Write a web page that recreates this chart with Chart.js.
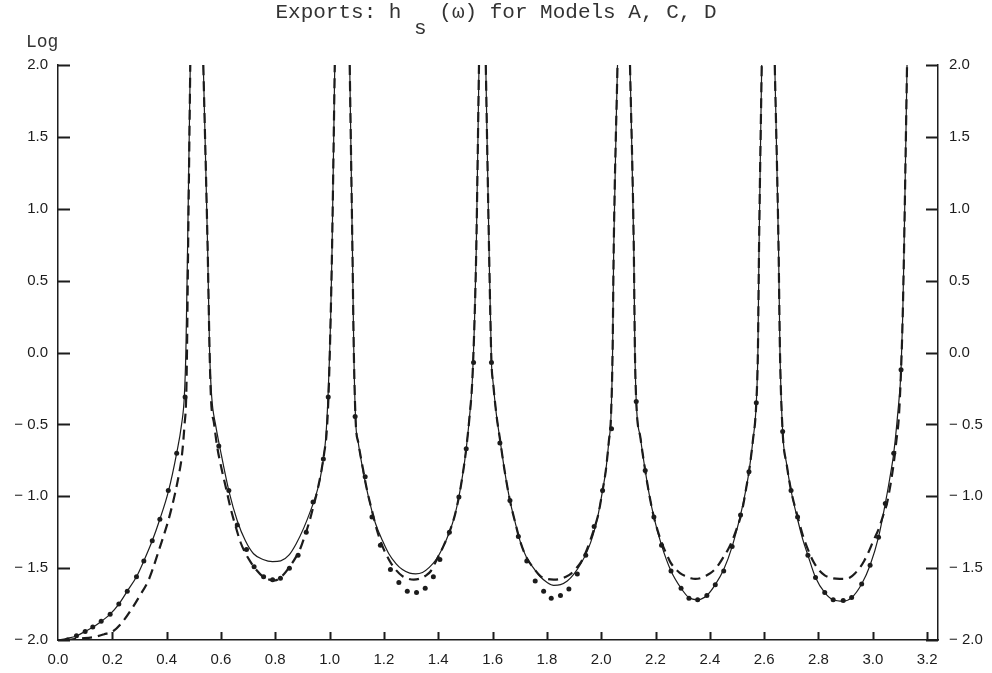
<!DOCTYPE html>
<html>
<head>
<meta charset="utf-8">
<script src="https://cdn.jsdelivr.net/npm/chart.js@4.4.0/dist/chart.umd.min.js"></script>
<style>
  body { margin: 0; background: #fff; }
  #wrap { position: relative; width: 992px; height: 673px; }
  #title { position: absolute; top: 1px; left: 0; width: 992px; text-align: center;
           font: 21px "Liberation Mono", monospace; color: #333; line-height: 24px; white-space: pre; }
  #title .sub { position: relative; top: 16px; }
  #ylog { position: absolute; top: 32px; left: 26px; font: 18px "Liberation Mono", monospace; color: #333; }
</style>
</head>
<body>
<div id="wrap">
  <canvas id="c" width="992" height="673"></canvas>
  <div id="title">Exports: h <span class="sub">s</span> (ω) for Models A, C, D</div>
  <div id="ylog">Log</div>
</div>
<script>
// tick values and labels
const xTicks = [0.0, 0.2, 0.4, 0.6, 0.8, 1.0, 1.2, 1.4, 1.6, 1.8, 2.0, 2.2, 2.4, 2.6, 2.8, 3.0, 3.2];
const xTickLabels = ['0.0', '0.2', '0.4', '0.6', '0.8', '1.0', '1.2', '1.4', '1.6', '1.8', '2.0', '2.2', '2.4', '2.6', '2.8', '3.0', '3.2'];
const yTicks = [-2.0, -1.5, -1.0, -0.5, 0.0, 0.5, 1.0, 1.5, 2.0];
const yTickLabels = ['\u2212 2.0', '\u2212 1.5', '\u2212 1.0', '\u2212 0.5', '0.0', '0.5', '1.0', '1.5', '2.0'];

// Model A (solid). null = break at a pole
const modelA = [
  [0.000,-2.00],[0.030,-1.99],[0.070,-1.97],[0.100,-1.94],[0.130,-1.91],[0.160,-1.87],[0.192,-1.82],[0.224,-1.75],
  [0.255,-1.66],[0.289,-1.56],[0.316,-1.45],[0.347,-1.31],[0.375,-1.16],[0.406,-0.97],[0.437,-0.70],[0.455,-0.50],
  [0.465,-0.31],[0.471,0.02],[0.477,0.72],[0.487,2.00],
  [0.511,null],
  [0.535,2.00],[0.551,0.72],[0.558,0.02],[0.566,-0.31],[0.580,-0.50],[0.598,-0.68],[0.630,-0.97],[0.660,-1.17],
  [0.690,-1.31],[0.720,-1.40],[0.755,-1.44],[0.790,-1.455],[0.820,-1.45],[0.850,-1.41],[0.877,-1.33],[0.905,-1.22],
  [0.930,-1.10],[0.950,-0.99],[0.964,-0.89],[0.977,-0.74],[0.986,-0.59],[0.995,-0.27],[1.004,0.25],[1.009,0.72],[1.019,2.00],
  [1.046,null],
  [1.074,2.00],[1.084,0.72],[1.089,0.02],[1.096,-0.48],[1.105,-0.62],[1.118,-0.77],[1.131,-0.90],[1.150,-1.06],
  [1.169,-1.19],[1.195,-1.31],[1.218,-1.40],[1.245,-1.47],[1.268,-1.51],[1.295,-1.535],[1.317,-1.54],[1.342,-1.53],
  [1.367,-1.495],[1.392,-1.44],[1.416,-1.36],[1.441,-1.25],[1.460,-1.14],[1.476,-1.005],[1.490,-0.85],[1.503,-0.67],
  [1.515,-0.45],[1.525,-0.21],[1.534,0.25],[1.540,0.72],[1.550,2.00],
  [1.563,null],
  [1.575,2.00],[1.587,0.72],[1.596,-0.07],[1.602,-0.21],[1.614,-0.43],[1.627,-0.60],[1.645,-0.83],[1.664,-1.03],
  [1.683,-1.18],[1.701,-1.31],[1.726,-1.43],[1.751,-1.50],[1.776,-1.56],[1.801,-1.60],[1.825,-1.62],[1.850,-1.615],
  [1.875,-1.59],[1.900,-1.54],[1.925,-1.47],[1.949,-1.38],[1.970,-1.27],[1.987,-1.145],[2.005,-0.96],[2.017,-0.82],
  [2.028,-0.62],[2.036,-0.445],[2.042,0.02],[2.046,0.72],[2.060,2.00],
  [2.084,null],
  [2.106,2.00],[2.120,0.72],[2.124,0.02],[2.129,-0.34],[2.145,-0.60],[2.162,-0.82],[2.178,-1.00],[2.194,-1.145],
  [2.222,-1.34],[2.257,-1.52],[2.294,-1.64],[2.323,-1.705],[2.355,-1.72],[2.389,-1.69],[2.420,-1.615],[2.451,-1.51],
  [2.482,-1.35],[2.513,-1.13],[2.530,-0.98],[2.544,-0.83],[2.558,-0.62],[2.571,-0.35],[2.577,0.02],[2.581,0.72],[2.591,2.00],
  [2.615,null],
  [2.639,2.00],[2.653,0.72],[2.658,0.02],[2.668,-0.55],[2.683,-0.78],[2.699,-0.96],[2.723,-1.16],[2.742,-1.30],
  [2.761,-1.41],[2.789,-1.565],[2.823,-1.67],[2.854,-1.72],[2.891,-1.73],[2.922,-1.705],[2.959,-1.61],[2.990,-1.48],
  [3.021,-1.285],[3.046,-1.05],[3.062,-0.88],[3.077,-0.70],[3.092,-0.42],[3.104,-0.12],[3.110,0.25],[3.115,0.72],[3.126,2.00]
];

// Model C (dashed)
const modelC = [
  [0.030,-2.00],[0.080,-1.99],[0.130,-1.98],[0.170,-1.96],[0.202,-1.94],[0.235,-1.88],[0.276,-1.77],[0.305,-1.68],
  [0.332,-1.59],[0.350,-1.50],[0.369,-1.39],[0.388,-1.28],[0.406,-1.17],[0.431,-0.98],[0.445,-0.85],[0.456,-0.72],
  [0.466,-0.50],[0.472,-0.31],[0.475,0.02],[0.479,0.72],[0.487,2.00],
  [0.511,null],
  [0.535,2.00],[0.551,0.72],[0.558,0.02],[0.563,-0.31],[0.575,-0.50],[0.586,-0.655],[0.600,-0.79],[0.617,-0.93],
  [0.635,-1.08],[0.654,-1.21],[0.672,-1.32],[0.691,-1.40],[0.710,-1.46],[0.729,-1.51],[0.755,-1.56],[0.778,-1.58],
  [0.800,-1.585],[0.828,-1.55],[0.853,-1.49],[0.877,-1.42],[0.893,-1.36],[0.908,-1.28],[0.925,-1.18],[0.939,-1.08],
  [0.955,-0.96],[0.970,-0.82],[0.980,-0.70],[0.989,-0.56],[0.996,-0.30],[1.004,0.25],[1.009,0.72],[1.019,2.00],
  [1.046,null],
  [1.074,2.00],[1.084,0.72],[1.089,0.02],[1.096,-0.48],[1.106,-0.63],[1.119,-0.77],[1.137,-0.95],[1.156,-1.10],
  [1.175,-1.24],[1.193,-1.34],[1.218,-1.44],[1.243,-1.51],[1.268,-1.555],[1.292,-1.575],[1.310,-1.58],[1.329,-1.575],
  [1.352,-1.555],[1.373,-1.52],[1.392,-1.45],[1.416,-1.36],[1.441,-1.25],[1.460,-1.14],[1.476,-1.005],[1.490,-0.85],
  [1.503,-0.67],[1.515,-0.45],[1.525,-0.21],[1.534,0.25],[1.540,0.72],[1.550,2.00],
  [1.563,null],
  [1.575,2.00],[1.587,0.72],[1.596,-0.07],[1.602,-0.21],[1.614,-0.43],[1.627,-0.60],[1.645,-0.83],[1.664,-1.03],
  [1.683,-1.18],[1.701,-1.31],[1.726,-1.43],[1.751,-1.50],[1.776,-1.555],[1.800,-1.575],[1.825,-1.58],[1.850,-1.575],
  [1.870,-1.56],[1.888,-1.54],[1.908,-1.50],[1.925,-1.46],[1.943,-1.39],[1.961,-1.30],[1.980,-1.19],[1.990,-1.12],
  [2.005,-0.96],[2.017,-0.82],[2.028,-0.62],[2.036,-0.445],[2.042,0.02],[2.046,0.72],[2.060,2.00],
  [2.084,null],
  [2.106,2.00],[2.120,0.72],[2.124,0.02],[2.129,-0.34],[2.145,-0.60],[2.162,-0.82],[2.178,-1.00],[2.194,-1.145],
  [2.222,-1.32],[2.240,-1.40],[2.255,-1.46],[2.271,-1.50],[2.290,-1.535],[2.309,-1.555],[2.330,-1.57],[2.346,-1.575],
  [2.365,-1.57],[2.383,-1.555],[2.402,-1.535],[2.420,-1.505],[2.436,-1.465],[2.451,-1.42],[2.467,-1.37],[2.482,-1.31],
  [2.498,-1.23],[2.513,-1.145],[2.525,-1.04],[2.535,-0.93],[2.544,-0.83],[2.558,-0.62],[2.571,-0.35],[2.577,0.02],
  [2.581,0.72],[2.591,2.00],
  [2.615,null],
  [2.639,2.00],[2.653,0.72],[2.658,0.02],[2.668,-0.55],[2.683,-0.78],[2.699,-0.96],[2.723,-1.14],[2.742,-1.27],
  [2.761,-1.37],[2.780,-1.45],[2.800,-1.51],[2.823,-1.55],[2.850,-1.57],[2.878,-1.575],[2.897,-1.575],[2.916,-1.565],
  [2.935,-1.535],[2.953,-1.495],[2.968,-1.45],[2.984,-1.39],[3.002,-1.31],[3.021,-1.23],[3.037,-1.14],[3.052,-1.05],
  [3.065,-0.92],[3.077,-0.77],[3.087,-0.61],[3.096,-0.445],[3.104,-0.12],[3.110,0.25],[3.115,0.72],[3.126,2.00]
];

// Model D (dots)
const modelD = [
  [0.035,-2.00],[0.068,-1.97],[0.100,-1.94],[0.128,-1.91],[0.159,-1.87],[0.192,-1.82],[0.224,-1.75],[0.255,-1.66],
  [0.289,-1.56],[0.316,-1.45],[0.347,-1.31],[0.375,-1.16],[0.406,-0.96],[0.437,-0.70],[0.468,-0.31],
  [0.592,-0.65],[0.629,-0.96],[0.660,-1.20],[0.694,-1.37],[0.722,-1.49],[0.757,-1.56],[0.790,-1.58],[0.819,-1.57],
  [0.852,-1.50],[0.884,-1.41],[0.914,-1.25],[0.939,-1.04],[0.977,-0.74],[0.995,-0.31],
  [1.094,-0.445],[1.131,-0.865],[1.156,-1.145],[1.187,-1.34],[1.224,-1.51],[1.255,-1.60],[1.286,-1.66],[1.320,-1.67],
  [1.352,-1.64],[1.382,-1.56],[1.406,-1.44],[1.441,-1.25],[1.476,-1.005],[1.503,-0.67],[1.530,-0.07],
  [1.596,-0.07],[1.627,-0.63],[1.664,-1.03],[1.695,-1.28],[1.726,-1.45],[1.757,-1.59],[1.788,-1.66],[1.816,-1.71],
  [1.850,-1.69],[1.881,-1.645],[1.912,-1.54],[1.943,-1.41],[1.974,-1.21],[2.005,-0.96],[2.038,-0.53],
  [2.129,-0.34],[2.162,-0.82],[2.194,-1.145],[2.222,-1.34],[2.257,-1.52],[2.294,-1.64],[2.323,-1.71],[2.355,-1.72],
  [2.389,-1.69],[2.420,-1.615],[2.451,-1.52],[2.482,-1.35],[2.513,-1.13],[2.544,-0.83],[2.571,-0.35],
  [2.668,-0.55],[2.699,-0.96],[2.723,-1.145],[2.761,-1.41],[2.789,-1.565],[2.823,-1.67],[2.854,-1.72],[2.891,-1.725],
  [2.922,-1.705],[2.959,-1.61],[2.990,-1.48],[3.021,-1.285],[3.046,-1.05],[3.077,-0.70],[3.104,-0.12]
];

const ink = '#1c1c1c';
const toXY = arr => arr.map(p => ({x: p[0], y: p[1]}));
const labelFont = {family: '"Liberation Sans", Arial, sans-serif', size: 15};

// short tick marks pointing into the plot, like the original
const innerTicks = {
  id: 'innerTicks',
  afterDraw(chart) {
    const {ctx, chartArea, scales} = chart;
    ctx.save();
    ctx.strokeStyle = ink;
    ctx.lineWidth = 2;
    ctx.beginPath();
    yTicks.forEach(v => {
      const py = Math.round(scales.y.getPixelForValue(v)) + 0.5;
      ctx.moveTo(chartArea.left, py); ctx.lineTo(chartArea.left + 12, py);
      ctx.moveTo(chartArea.right - 12, py); ctx.lineTo(chartArea.right, py);
    });
    xTicks.slice(1).forEach(v => {
      const px = Math.round(scales.x.getPixelForValue(v)) + 0.5;
      ctx.moveTo(px, chartArea.bottom); ctx.lineTo(px, chartArea.bottom - 8);
    });
    ctx.stroke();
    ctx.restore();
  }
};

const yScale = (position, width, pad) => ({
  type: 'linear',
  position: position,
  min: -2, max: 2,
  grid: {display: false, drawTicks: false},
  border: {display: true, color: ink, width: 1.5},
  afterBuildTicks: s => { s.ticks = yTicks.map(v => ({value: v})); },
  afterFit: s => { s.width = width; },
  ticks: {
    color: ink, font: labelFont, padding: pad, autoSkip: false,
    callback: (v, i) => yTickLabels[i]
  }
});

new Chart(document.getElementById('c'), {
  type: 'line',
  data: {
    datasets: [
      {label: 'Model A', data: toXY(modelA), borderColor: ink, borderWidth: 1.2,
       pointRadius: 0, cubicInterpolationMode: 'monotone', spanGaps: false},
      {label: 'Model C', data: toXY(modelC), borderColor: ink, borderWidth: 2.2, borderDash: [10, 6],
       pointRadius: 0, cubicInterpolationMode: 'monotone', spanGaps: false},
      {label: 'Model D', data: toXY(modelD), showLine: false, pointRadius: 2.5,
       pointBackgroundColor: ink, pointBorderWidth: 0}
    ]
  },
  options: {
    responsive: false,
    animation: false,
    layout: {padding: {top: 65, left: 0, right: 0, bottom: 0}},
    plugins: {legend: {display: false}, tooltip: {enabled: false}},
    scales: {
      x: {
        type: 'linear',
        min: 0, max: 3.24,
        grid: {display: false, drawTicks: false},
        border: {display: true, color: ink, width: 1.5},
        afterBuildTicks: s => { s.ticks = xTicks.map(v => ({value: v})); },
        afterFit: s => { s.height = 33; },
        ticks: {
          color: ink, font: labelFont, padding: 11, autoSkip: false, maxRotation: 0,
          callback: (v, i) => xTickLabels[i]
        }
      },
      y: yScale('left', 58, 10),
      y2: yScale('right', 54, 11)
    }
  },
  plugins: [innerTicks]
});
</script>
</body>
</html>
